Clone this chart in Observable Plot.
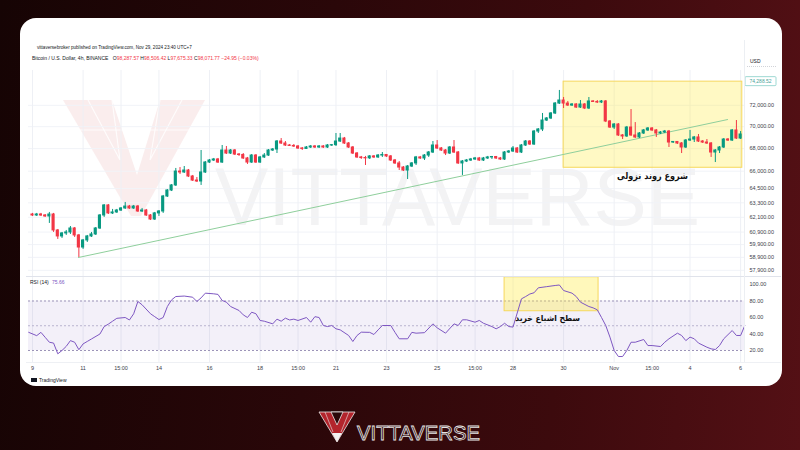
<!DOCTYPE html>
<html><head><meta charset="utf-8">
<script src="https://cdn.jsdelivr.net/npm/d3@7"></script>
<script src="https://cdn.jsdelivr.net/npm/@observablehq/plot@0.6"></script>
<style>
html,body{margin:0;padding:0;}
body{width:800px;height:450px;overflow:hidden;position:relative;background:linear-gradient(95deg,#160404 0%,#2a0709 40%,#3c0a0d 70%,#541015 100%);font-family:"Liberation Sans",Arial,sans-serif;}
.layer{position:absolute;left:0;top:0;width:800px;height:450px;}
#card{position:absolute;left:20px;top:18px;width:762px;height:368px;background:#fff;border-radius:16px;}
</style></head><body>
<div id="card"></div>
<svg id="wm" class="layer" width="800" height="450"></svg>
<div id="price" class="layer"></div>
<div id="rsi" class="layer"></div>
<svg id="ov" class="layer" width="800" height="450"></svg>
<script>
// ---------- data ----------
const priceTicks = [57900,58900,59900,60900,62100,63300,64500,66000,68000,70000,72000];
const rsiTicks = [20,40,60,80,100];
const timeTickIdx = [0,12,21,30,42,54,63,72,84,96,105,114,126,138,147,156,168];
const timeTickLabels = ["9","11","15:00","14","16","18","15:00","21","23","25","15:00","28","30","Nov","15:00","4","6"];

const firstOpen = 62330;
const closes = [62250,62330,62250,62170,62330,61030,60550,60790,60870,61190,60630,59670,60230,60550,60710,61190,62250,63080,62420,62500,
62660,62830,62990,62830,62990,62580,62660,62250,61920,62420,62580,63830,64340,64770,65970,65890,66060,65540,65190,65110,
65890,66760,66940,67030,66760,67830,67560,67830,67470,67430,67120,66760,67380,66760,67210,67380,67830,67920,68640,68460,
68280,68240,68190,68010,67970,68100,68190,68100,68190,68100,68280,68310,68640,68910,68460,68100,67560,67210,67160,67130,
67300,67210,67380,67430,67300,66940,66680,66320,66060,66410,66680,67210,67120,67380,67650,68280,68010,67830,67560,68100,
67650,66680,66850,66940,67030,67120,66940,67120,67210,67250,67120,67030,67650,67740,68010,67650,68280,68640,68370,69550,
69740,70570,70760,71230,72170,72460,72170,71980,72080,71790,72080,71700,72370,72320,72270,72370,70480,69920,70200,69190,
69100,69920,69190,69010,69370,69650,69830,69650,69370,69460,69550,68550,68600,68460,68100,68730,68820,69010,68640,68550,
68460,67650,67830,68100,68820,68730,69650,68910,69280];
const highs = [62420,62420,62420,62330,62500,62420,61110,60870,61030,61350,61270,60710,60310,60630,60870,61270,62330,63160,63160,62750,
62750,62910,63330,63080,63080,63080,62830,62750,62330,62500,62660,63920,64420,64850,66240,66320,66410,66150,65630,65450,
67830,66850,67030,67120,67120,68280,68190,67920,67920,67560,67560,67210,67470,67470,67300,67560,67920,68010,68730,68910,
68640,68370,68370,68280,68100,68190,68280,68280,68280,68280,68370,68370,69370,69370,69010,68550,68190,67650,67300,67300,
67380,67380,67470,67650,67470,67380,67030,66850,66410,66500,66760,67300,67300,67470,67740,68640,68730,68100,67920,68190,
68730,67740,66940,67030,67120,67210,67210,67210,67300,67300,67300,67210,67740,67830,68190,68100,68370,68730,68730,69650,
69830,71230,70850,71320,72270,73430,72750,72370,72170,72170,72460,72170,72750,72460,72460,72460,72460,70570,70290,70290,
69280,70020,71600,70380,69460,69740,69920,69920,69740,69550,69650,69650,68640,68640,68550,68820,69650,69100,69280,68730,
68820,68550,67920,68190,68910,68910,69740,70570,69550];
const lows = [62170,62170,62170,62090,61600,60870,60310,60390,60630,60710,60470,58890,59520,60070,60470,60630,61110,62090,62330,62330,
62420,62580,62750,62750,62750,62500,62500,62170,61840,61840,62170,62420,63750,64250,64680,65710,65800,65450,65110,65020,
64770,65800,66680,66850,66680,66680,67470,67470,67380,67300,67030,66590,66680,66680,66680,67120,67300,67740,67560,68370,
68190,68190,68100,67920,67830,67920,68010,68010,68010,68010,68010,68190,68190,68550,68370,68010,67470,67120,67030,66500,
67030,67120,67120,67210,67210,66850,66590,66060,65970,65280,66320,66500,67030,66940,67210,67560,67920,67740,67380,67470,
67560,66590,65630,66760,66850,66940,66850,66850,67030,67030,67030,66940,66940,67560,67650,67560,67560,68190,68280,68280,
69370,69550,70480,70660,71130,72080,71700,71890,71890,71700,71700,71600,71600,72270,72170,72170,70380,69830,69740,69100,
68820,69010,69100,68910,68910,69280,69550,69550,69010,69280,69370,68100,68460,68370,67560,68010,68640,68550,68550,68460,
68370,67210,66760,67560,68010,68640,68640,68820,68820];

const rsiIdx = [-0.9,1,2,3,4,5,6,7,8,9,10,11,12,13,14,16,17,18,19,20,22,23,24,25,26,28,29,30,31,32,33,34,36,38,39,40,41,43,44,45,
46,47,49,50,51,52,53,54,55,57,58,59,60,61,62,63,65,66,67,68,69,70,71,72,73,75,76,77,78,80,81,82,83,85,86,87,89,90,91,93,
95,96,98,100,101,102,103,105,106,107,109,110,111,112,113,114,116,117,118,119,120,122,124,125,126,128,129,130,132,133,134,135,136,137,138,139,
140,141,142,143,145,146,147,149,150,151,153,154,155,156,157,158,160,161,162,163,164,166,167,168,169];
const rsiVal = [42,38,42,36,30,29,16,20,25,32,30,21,28,31,34,40,49,52,55.5,59,60,57,64.5,79.4,75.4,64.5,61,57.5,60,73.3,81.4,85.4,86,84.6,79.4,83.8,89.5,88.7,88,80.6,
78.6,73.3,68.5,63.2,60,66.4,64.6,56.4,55.5,52.3,58,55.5,59.2,57,58,56.4,60,54.3,61,60,50.3,49,50.3,46.3,45,38.2,30.9,38.2,42.2,42,39.4,45,50.3,50.3,42,34.2,34.2,42,41,41.6,
52.3,47.5,41,52.3,50.3,57.2,57.2,54.3,56.4,53,49,46.3,49,53,49,48.4,82.6,85.4,88.5,90,96,97.4,98.8,99.4,92.7,89.5,85.4,78.6,73.3,71.7,69.3,60,50.3,36.2,20,12.7,
12.7,20,30,30,33.3,26,26,24.8,30,34.2,41,38.2,32,36.2,34.2,29,24,22,21.2,26,34.2,44.2,38.2,38.2,50.3];

const trendLine = [{i:10.9, price:58890},{i:164.9, price:70660}];
const priceBox = {i1:126, i2:168.4, top:74288.52, bottom:66300};
const rsiBox = {i1:112, i2:134.3, top:108.8, bottom:67.6};
const priceNote = {i:147.1, price:65540, label:"شروع روند نزولی"};
const rsiNote = {i:122.2, rsi:58.8, label:"سطح اشباع خرید"};
const rsiLast = "75.66";

// ---------- build ----------
const candles = closes.map((c,i)=>({i, open: i===0 ? firstOpen : closes[i-1], close:c, high:highs[i], low:lows[i]}));
const rsi = rsiIdx.map((x,k)=>({i:x, v:rsiVal[k]}));
const up = "#089981", down = "#f23645";
const col = d => d.close >= d.open ? up : down;
const xDomain = [-0.949, 168.92];
const baseStyle = {background:"transparent", fontFamily:"Liberation Sans, Arial, sans-serif", fontSize:"5.5px", color:"#3d404a", overflow:"visible"};

const pricePlot = Plot.plot({
  width:800, height:450, marginLeft:28, marginRight:56, marginTop:70, marginBottom:174,
  style: baseStyle,
  x:{domain:xDomain, axis:null},
  y:{type:"log", domain:[57429,75391], ticks:priceTicks, tickFormat:d3.format(",.2f"), axis:"right", tickSize:0, tickPadding:5, label:null},
  marks:[
    Plot.ruleY(priceTicks,{stroke:"#f1f3f8"}),
    Plot.ruleX(timeTickIdx,{stroke:"#eef0f5"}),
    Plot.rect([priceBox],{x1:"i1",x2:"i2",y1:"bottom",y2:"top",fill:"#ffeb3b",fillOpacity:0.3,stroke:"#f6d85c",strokeWidth:1}),
    Plot.line(trendLine,{x:"i",y:"price",stroke:"#8fcf9c",strokeWidth:1}),
    Plot.ruleX(candles,{x:"i",y1:"low",y2:"high",stroke:col,strokeWidth:1}),
    Plot.rect(candles,{x1:d=>d.i-0.37,x2:d=>d.i+0.37,y1:"open",y2:"close",fill:col,insetTop:-0.5,insetBottom:-0.5}),
    Plot.text([priceNote],{x:"i",y:"price",text:"label",fontSize:9,fontWeight:"bold",fill:"#111",fontFamily:"DejaVu Sans Condensed, DejaVu Sans"})
  ]
});
document.getElementById("price").appendChild(pricePlot);

const rsiPlot = Plot.plot({
  width:800, height:450, marginLeft:28, marginRight:56, marginTop:276, marginBottom:88,
  style: baseStyle,
  x:{domain:xDomain, ticks:timeTickIdx, tickFormat:d=>timeTickLabels[timeTickIdx.indexOf(d)], tickSize:0, tickPadding:4, label:null},
  y:{domain:[5.45,109.7], ticks:rsiTicks, tickFormat:d3.format(".2f"), axis:"right", tickSize:0, tickPadding:5, label:null},
  marks:[
    Plot.ruleX(timeTickIdx,{stroke:"#eef0f5"}),
    Plot.rect([{a:xDomain[0], b:xDomain[1], lo:20, hi:80}],{x1:"a",x2:"b",y1:"lo",y2:"hi",fill:"#7e57c2",fillOpacity:0.09}),
    Plot.ruleY([80,20],{stroke:"#9b93b8",strokeDasharray:"2,2"}),
    Plot.ruleY([50],{stroke:"#b9b3cf",strokeDasharray:"2,2"}),
    Plot.rect([rsiBox],{x1:"i1",x2:"i2",y1:"bottom",y2:"top",fill:"#ffeb3b",fillOpacity:0.35,stroke:"#f6d85c",strokeWidth:1}),
    Plot.line(rsi,{x:"i",y:"v",stroke:"#7e57c2",strokeWidth:1}),
    Plot.text([rsiNote],{x:"i",y:"rsi",text:"label",fontSize:8.5,fontWeight:"bold",fill:"#111",fontFamily:"DejaVu Sans Condensed, DejaVu Sans"})
  ]
});
document.getElementById("rsi").appendChild(rsiPlot);

// box price label position from the price scale
let boxY = 82;
try { const s = pricePlot.scale("y"); if (s && s.apply) boxY = s.apply(priceBox.top); } catch(e) {}

// ---------- watermark ----------
document.getElementById("wm").innerHTML = `
  <polygon points="63,100 112,100 137,175 160,100 205,100 141,216 131,216" fill="#f6dcdc" opacity="0.5"/>
  <polyline points="88,100 120,160 112,100" fill="none" stroke="#fff" stroke-width="1.2" opacity="0.8"/>
  <polyline points="182,100 150,160 160,100" fill="none" stroke="#fff" stroke-width="1.2" opacity="0.8"/>
  <line x1="75" y1="130" x2="196" y2="130" stroke="#fff" stroke-width="1.2" opacity="0.8"/>
  <text x="215" y="225" font-family="Liberation Sans, Arial" font-size="82" fill="#f3f3f4" textLength="485" lengthAdjust="spacingAndGlyphs">VITTAVERSE</text>`;

// ---------- overlay texts ----------
const fmt = d3.format(",.2f");
document.getElementById("ov").innerHTML = `
  <g font-family="Liberation Sans, Arial, sans-serif">
  <text x="37" y="49" font-size="4.6" fill="#131722">vittaversebroker published on TradingView.com, Nov 29, 2024 23:40 UTC+7</text>
  <text x="32" y="60" font-size="5" fill="#131722">Bitcoin / U.S. Dollar, 4h, BINANCE <tspan dx="3">O</tspan><tspan fill="#f23645">98,287.57</tspan> <tspan>H</tspan><tspan fill="#f23645">98,506.42</tspan> <tspan>L</tspan><tspan fill="#f23645">97,675.33</tspan> <tspan>C</tspan><tspan fill="#f23645">98,071.77</tspan> <tspan fill="#f23645">−24.95 (−0.03%)</tspan></text>
  <text x="750" y="63" font-size="5" fill="#131722">USD</text>
  <line x1="747" y1="66.5" x2="776" y2="66.5" stroke="#b2b5be" stroke-width="0.6" stroke-dasharray="1,1"/>
  <rect x="745" y="${boxY-4.5}" width="31" height="9" fill="#fff" stroke="#86cfc8" stroke-width="0.8" rx="1"/>
  <text x="760.5" y="${boxY+1.8}" font-size="5" fill="#4a9f97" text-anchor="middle">${fmt(priceBox.top)}</text>
  <line x1="26" y1="276.5" x2="781" y2="276.5" stroke="#e0e3eb" stroke-width="1"/>
  <line x1="744.5" y1="40" x2="744.5" y2="362" stroke="#eceff3" stroke-width="1"/>
  <line x1="26" y1="362.5" x2="781" y2="362.5" stroke="#eef0f4" stroke-width="1"/>
  <text x="30" y="284" font-size="5" fill="#131722">RSI (14) <tspan fill="#7e57c2" dx="2">${rsiLast}</tspan></text>
  <rect x="31" y="378" width="6" height="4" fill="#131722"/>
  <text x="39" y="382" font-size="5" fill="#131722">TradingView</text>
  </g>
  <g>
    <polygon points="319,412 355,412 337,442" fill="#b3242c" stroke="#e9e9e9" stroke-width="0.8"/>
    <polygon points="331,412 343,412 337,425" fill="#2b0709" stroke="#e9e9e9" stroke-width="0.8"/>
    <line x1="325" y1="412" x2="333" y2="432" stroke="#e9e9e9" stroke-width="0.6"/>
    <line x1="349" y1="412" x2="341" y2="432" stroke="#e9e9e9" stroke-width="0.6"/>
    <polygon points="332,433 342,433 337,442" fill="#f2f2f2"/>
    <text x="357" y="440" font-family="Liberation Sans, Arial" font-size="21" fill="#2b0709" stroke="#e6e6e6" stroke-width="0.8" textLength="123" lengthAdjust="spacingAndGlyphs">VITTAVERSE</text>
  </g>`;
</script>
</body></html>
